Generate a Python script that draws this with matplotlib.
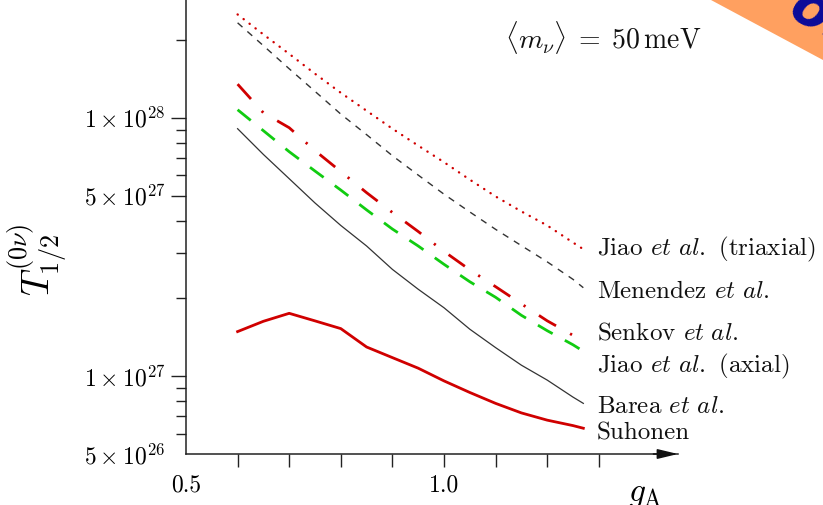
import matplotlib
matplotlib.use("Agg")
import matplotlib.pyplot as plt
import matplotlib.ticker as mticker
from matplotlib.patches import Polygon

plt.rcParams['font.family'] = 'serif'
plt.rcParams['font.serif'] = ['cmr10']
plt.rcParams['mathtext.fontset'] = 'cm'
plt.rcParams['axes.unicode_minus'] = False

# ---- data ----
gA = [0.6, 0.65, 0.7, 0.75, 0.8, 0.85, 0.9, 0.95, 1.0, 1.05, 1.1, 1.15, 1.2, 1.25, 1.27]
jiao_triaxial = [2.51e28, 2.10e28, 1.766e28, 1.48e28, 1.249e28, 1.064e28, 9.07e27, 7.80e27,
                 6.73e27, 5.76e27, 4.96e27, 4.34e27, 3.83e27, 3.29e27, 3.10e27]
menendez = [2.33e28, 1.90e28, 1.547e28, 1.265e28, 1.033e28, 8.6e27, 7.13e27, 6.0e27,
            5.06e27, 4.32e27, 3.70e27, 3.2e27, 2.77e27, 2.37e27, 2.20e27]
senkov = [1.349e28, 1.045e28, 9.15e27, 7.46e27, 6.19e27, 5.13e27, 4.30e27, 3.63e27,
          3.04e27, 2.58e27, 2.22e27, 1.905e27, 1.638e27, 1.439e27, 1.357e27]
jiao_axial = [1.074e28, 8.91e27, 7.39e27, 6.22e27, 5.25e27, 4.40e27, 3.71e27, 3.19e27,
              2.71e27, 2.32e27, 2.02e27, 1.72e27, 1.50e27, 1.323e27, 1.249e27]
barea = [9.07e27, 7.21e27, 5.81e27, 4.68e27, 3.83e27, 3.19e27, 2.59e27, 2.17e27,
         1.84e27, 1.52e27, 1.29e27, 1.103e27, 9.66e26, 8.3e26, 7.85e26]
suhonen = [1.488e27, 1.631e27, 1.751e27, 1.637e27, 1.528e27, 1.297e27, 1.18e27, 1.074e27,
           9.59e26, 8.65e26, 7.85e26, 7.21e26, 6.76e26, 6.44e26, 6.29e26]

series_labels = [r"Jiao $\mathit{et\ al.}$ (triaxial)", r"Menendez $\mathit{et\ al.}$",
                 r"Senkov $\mathit{et\ al.}$", r"Jiao $\mathit{et\ al.}$ (axial)",
                 r"Barea $\mathit{et\ al.}$", "Suhonen"]
ytick_vals = [5e26, 1e27, 5e27, 1e28]
ytick_labels = [r"$5\times10^{26}$", r"$1\times10^{27}$", r"$5\times10^{27}$", r"$1\times10^{28}$"]
xtick_vals = [0.5, 1.0]
xtick_labels = ["0.5", "1.0"]
xminor_vals = [0.6, 0.7, 0.8, 0.9, 1.1, 1.2, 1.3]
yminor_vals = [6e26, 7e26, 8e26, 9e26, 2e27, 3e27, 4e27, 6e27, 7e27, 8e27, 9e27, 2e28]

W, H = 823, 505
fig = plt.figure(figsize=(W / 100, H / 100), dpi=100)
ax = fig.add_axes([186 / W, 1 - 454 / H, (678 - 186) / W, 454 / H])
ax.set_yscale('log')
ax.set_xlim(0.5, 0.5 + (678 - 186) / 516)
ax.set_ylim(5e26, 10 ** (28 + 118 / 259))

red = '#d00000'
green = '#11cc11'
dark = '#333333'

ax.plot(gA, jiao_triaxial, color=red, lw=1.7, linestyle=(0, (0.1, 3.1)),
        dash_capstyle='round')
ax.plot(gA, menendez, color=dark, lw=1.0, linestyle=(0, (4.7, 4.7)))
ax.plot(gA, senkov, color=red, lw=2.0, linestyle=(0, (7.2, 5.8, 0.8, 5.8)))
ax.plot(gA, jiao_axial, color=green, lw=2.0, linestyle=(0, (6.1, 5.0)))
ax.plot(gA, barea, color=dark, lw=0.9)
ax.plot(gA, suhonen, color=red, lw=2.0)

# right-hand labels (pixel baselines)
label_y_px = [255, 298, 340, 372, 413, 440]
for lab, py in zip(series_labels, label_y_px):
    fig.text(597 / W, 1 - py / H, lab, fontsize=18, va='baseline', ha='left', color='#111111')

fig.text(505 / W, 1 - 49 / H, r"$\langle m_\nu\rangle\;=\;50\,\mathrm{meV}$", fontsize=20,
         va='baseline', ha='left', color='#111111')

# axes styling
for s in ['top', 'right']:
    ax.spines[s].set_visible(False)
for s in ['left', 'bottom']:
    ax.spines[s].set_color('#222222')
    ax.spines[s].set_linewidth(1.1)

ax.yaxis.set_major_locator(mticker.FixedLocator(ytick_vals))
ax.yaxis.set_major_formatter(mticker.FixedFormatter(ytick_labels))
ax.yaxis.set_minor_locator(mticker.FixedLocator(yminor_vals))
ax.yaxis.set_minor_formatter(mticker.NullFormatter())
ax.tick_params(axis='y', which='major', length=11, width=1.0, color='#222222',
               labelsize=17, pad=4, direction='out')
ax.tick_params(axis='y', which='minor', length=7.5, width=1.0, color='#222222', direction='out')

ax.xaxis.set_major_locator(mticker.FixedLocator(xtick_vals))
ax.xaxis.set_major_formatter(mticker.FixedFormatter(xtick_labels))
ax.xaxis.set_minor_locator(mticker.FixedLocator(xminor_vals))
ax.tick_params(axis='x', which='both', length=9, width=1.0, color='#222222',
               labelsize=17, pad=6, direction='out')
fig.canvas.draw()
ax.xaxis.get_major_ticks()[0].tick1line.set_visible(False)
ax.yaxis.get_major_ticks()[0].tick1line.set_visible(False)

# arrow on x axis
ax.annotate('', xy=(1.0, 0), xytext=(0.95, 0), xycoords='axes fraction',
            arrowprops=dict(arrowstyle='-|>,head_length=1.25,head_width=0.3',
                            color='#111111', lw=1.1, shrinkA=0, shrinkB=0),
            annotation_clip=False)

fig.text(628 / W, 1 - 501 / H, r"$g_\mathrm{A}$", fontsize=24, va='baseline', ha='left')
fig.text(37 / W, 1 - 260 / H, r"$T^{(0\nu)}_{1/2}$", fontsize=27, rotation=90,
         va='center', ha='center')

# orange banner in the corner
band = Polygon([[711 / W, 1.0], [1.0, 1.0], [1.0, 1 - 60 / H]], closed=True,
               transform=fig.transFigure, facecolor='#ffa060', edgecolor='none')
fig.patches.append(band)
fig.text(786 / W, 1 - 16 / H, "ob", fontsize=40, color='#0a0a9a', fontweight='bold',
         rotation=-28, rotation_mode='anchor', ha='left', va='baseline', style='italic',
         family='DejaVu Sans')

fig.savefig('out.png', dpi=100)
